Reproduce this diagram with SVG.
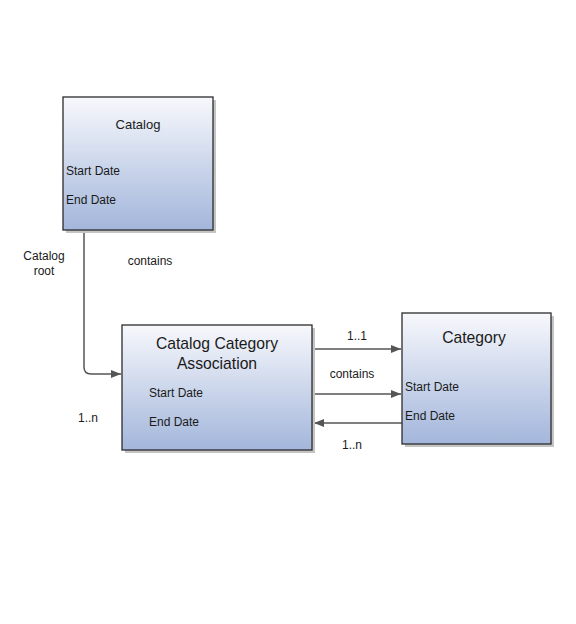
<svg xmlns="http://www.w3.org/2000/svg" width="576" height="624" viewBox="0 0 576 624">
<style>
.box{fill:url(#g);stroke:#2b2b2b;stroke-width:1.3}
.sh{fill:#c4c4c4}
.t{font-family:"Liberation Sans",Arial,sans-serif;fill:#1a1a1a}
.s{font-size:12px}
.m{font-size:13px}
.l{font-size:15.7px}
.c{fill:none;stroke:#555;stroke-width:1.5}
</style>
<defs>
<linearGradient id="g" x1="0" y1="0" x2="0" y2="1">
<stop offset="0" stop-color="#f7f8fc"/>
<stop offset="1" stop-color="#a3b6db"/>
</linearGradient>
<marker id="a" viewBox="0 0 10 8" refX="10" refY="4" markerWidth="10" markerHeight="8" markerUnits="userSpaceOnUse" orient="auto">
<path d="M0,0 L10,4 L0,8 Z" fill="#555"/>
</marker>
</defs>
<rect width="576" height="624" fill="#fff"/>
<g id="connectors">
<path class="c" d="M84,231 V367 Q84,374 91,374 H121" marker-end="url(#a)"/>
<path class="c" d="M313,349 H401" marker-end="url(#a)"/>
<path class="c" d="M313,394 H401" marker-end="url(#a)"/>
<path class="c" d="M402,423 H314" marker-end="url(#a)"/>
<text class="t s" x="44" y="260" text-anchor="middle">Catalog</text>
<text class="t s" x="44" y="275" text-anchor="middle">root</text>
<text class="t s" x="150" y="265" text-anchor="middle">contains</text>
<text class="t s" x="88" y="422" text-anchor="middle">1..n</text>
<text class="t s" x="357" y="340" text-anchor="middle">1..1</text>
<text class="t s" x="352" y="378" text-anchor="middle">contains</text>
<text class="t s" x="352" y="449" text-anchor="middle">1..n</text>
</g>
<g id="catalog">
<rect class="sh" x="66" y="100" width="150" height="133"/>
<rect class="box" x="63" y="97" width="150" height="133"/>
<text class="t m" x="138" y="129" text-anchor="middle">Catalog</text>
<text class="t s" x="66" y="175">Start Date</text>
<text class="t s" x="66" y="204">End Date</text>
</g>
<g id="cca">
<rect class="sh" x="125" y="328" width="190" height="125"/>
<rect class="box" x="122" y="325" width="190" height="125"/>
<text class="t l" x="217" y="349" text-anchor="middle">Catalog Category</text>
<text class="t l" x="217" y="369" text-anchor="middle">Association</text>
<text class="t s" x="149" y="397">Start Date</text>
<text class="t s" x="149" y="426">End Date</text>
</g>
<g id="category">
<rect class="sh" x="405" y="316" width="149" height="131"/>
<rect class="box" x="402" y="313" width="149" height="131"/>
<text class="t l" x="474" y="343" text-anchor="middle">Category</text>
<text class="t s" x="405" y="391">Start Date</text>
<text class="t s" x="405" y="420">End Date</text>
</g>
</svg>
